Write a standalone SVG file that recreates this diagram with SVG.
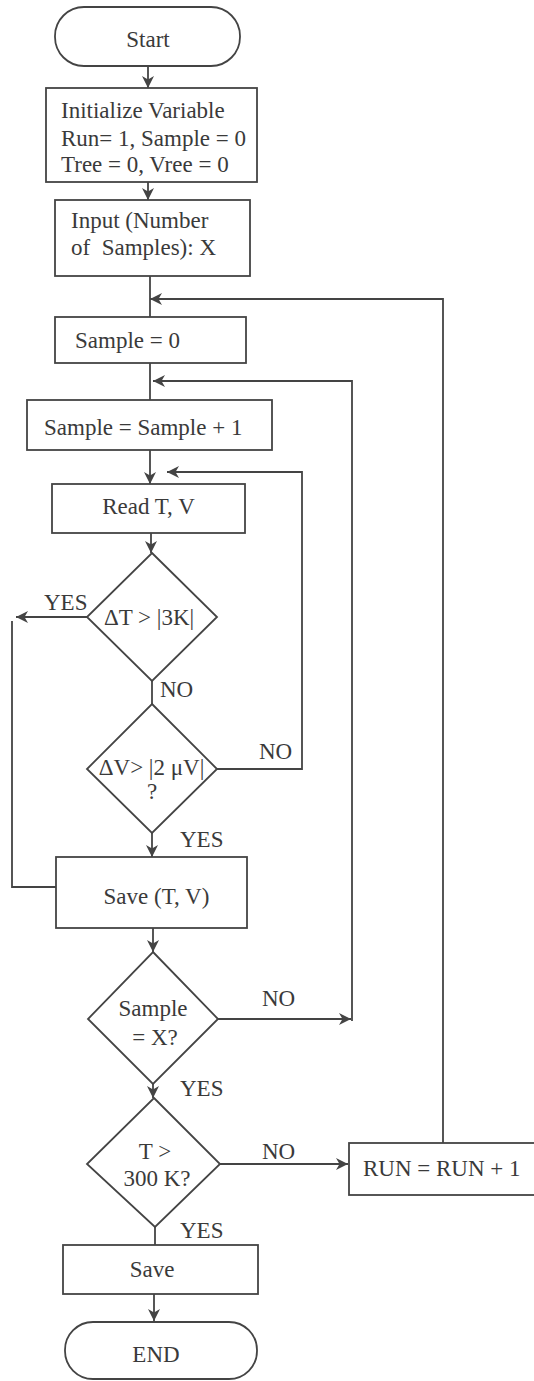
<svg xmlns="http://www.w3.org/2000/svg" width="534" height="1381" viewBox="0 0 534 1381">
  <defs>
    <marker id="arr" markerUnits="userSpaceOnUse" markerWidth="13" markerHeight="13" refX="12" refY="6" orient="auto">
      <path d="M0,0 L12,6 L0,12 L3.5,6 z" fill="#444"/>
    </marker>
    <style>
      .box { fill: none; stroke: #444; stroke-width: 1.8; }
      .ln { fill: none; stroke: #444; stroke-width: 1.8; }
      .t { font-family: "Liberation Serif", "Times New Roman", serif; font-size: 23px; fill: #3a3a3a; }
      .m { text-anchor: middle; }
    </style>
  </defs>
  <rect width="534" height="1381" fill="#ffffff"/>

  <g id="connectors">
    <path class="ln" d="M148,66 V88" marker-end="url(#arr)"/>
    <path class="ln" d="M148,182 V200" marker-end="url(#arr)"/>
    <path class="ln" d="M150,276 V317"/>
    <path class="ln" d="M150,363 V400"/>
    <path class="ln" d="M150,450 V484" marker-end="url(#arr)"/>
    <path class="ln" d="M151,533 V553" marker-end="url(#arr)"/>
    <path class="ln" d="M87,617 H16" marker-end="url(#arr)"/>
    <path class="ln" d="M12,621 V887 H56"/>
    <path class="ln" d="M152,681 V704"/>
    <path class="ln" d="M217,769 H302 V472 H167" marker-end="url(#arr)"/>
    <path class="ln" d="M152,833 V857" marker-end="url(#arr)"/>
    <path class="ln" d="M153,928 V952" marker-end="url(#arr)"/>
    <path class="ln" d="M218,1019 H351" marker-end="url(#arr)"/>
    <path class="ln" d="M352,1021 V381 H153" marker-end="url(#arr)"/>
    <path class="ln" d="M153,1084 V1098" marker-end="url(#arr)"/>
    <path class="ln" d="M220,1164 H348" marker-end="url(#arr)"/>
    <path class="ln" d="M443,1143 V299 H150" marker-end="url(#arr)"/>
    <path class="ln" d="M155,1227 V1245"/>
    <path class="ln" d="M154,1294 V1321" marker-end="url(#arr)"/>
    <text class="t" x="44" y="610">YES</text>
    <text class="t" x="160" y="697">NO</text>
    <text class="t" x="259" y="759">NO</text>
    <text class="t" x="180" y="847">YES</text>
    <text class="t" x="262" y="1006">NO</text>
    <text class="t" x="180" y="1096">YES</text>
    <text class="t" x="262" y="1159">NO</text>
    <text class="t" x="180" y="1238">YES</text>
  </g>

  <g id="start">
    <rect class="box" x="55" y="7" width="185" height="59" rx="29"/>
    <text class="t m" x="148" y="47">Start</text>
  </g>
  <g id="init">
    <rect class="box" x="46" y="88" width="211" height="94"/>
    <text class="t" x="61" y="118">Initialize Variable</text>
    <text class="t" x="61" y="146">Run= 1, Sample = 0</text>
    <text class="t" x="61" y="172">Tree = 0, Vree = 0</text>
  </g>
  <g id="input">
    <rect class="box" x="55" y="200" width="195" height="76"/>
    <text class="t" x="71" y="228">Input (Number</text>
    <text class="t" x="71" y="255" xml:space="preserve">of  Samples): X</text>
  </g>
  <g id="sample0">
    <rect class="box" x="55" y="317" width="191" height="46"/>
    <text class="t" x="75" y="348">Sample = 0</text>
  </g>
  <g id="sampleinc">
    <rect class="box" x="27" y="400" width="245" height="50"/>
    <text class="t" x="44" y="435">Sample = Sample + 1</text>
  </g>
  <g id="read">
    <rect class="box" x="52" y="484" width="193" height="49"/>
    <text class="t m" x="148.5" y="514">Read T, V</text>
  </g>
  <g id="dT">
    <polygon class="box" points="152,553 217,617 152,681 87,617"/>
    <text class="t m" x="149" y="625">ΔT &gt; |3K|</text>
  </g>
  <g id="dV">
    <polygon class="box" points="152,704 217,769 152,833 87,769"/>
    <text class="t m" x="151.5" y="775">ΔV&gt; |2 μV|</text>
    <text class="t m" x="152" y="799">?</text>
  </g>
  <g id="saveTV">
    <rect class="box" x="56" y="857" width="191" height="71"/>
    <text class="t m" x="156.5" y="904">Save (T, V)</text>
  </g>
  <g id="sampleX">
    <polygon class="box" points="153,952 218,1019 153,1084 88,1019"/>
    <text class="t m" x="153" y="1016">Sample</text>
    <text class="t m" x="155" y="1045">= X?</text>
  </g>
  <g id="t300">
    <polygon class="box" points="154,1098 220,1164 155,1227 87,1164"/>
    <text class="t m" x="155" y="1159">T &gt;</text>
    <text class="t m" x="157" y="1186">300 K?</text>
  </g>
  <g id="run">
    <rect class="box" x="349" y="1143" width="200" height="52"/>
    <text class="t" x="363" y="1176">RUN = RUN + 1</text>
  </g>
  <g id="save">
    <rect class="box" x="63" y="1245" width="195" height="49"/>
    <text class="t m" x="152" y="1277">Save</text>
  </g>
  <g id="end">
    <rect class="box" x="65" y="1322" width="192" height="57" rx="28"/>
    <text class="t m" x="156" y="1362">END</text>
  </g>
</svg>
